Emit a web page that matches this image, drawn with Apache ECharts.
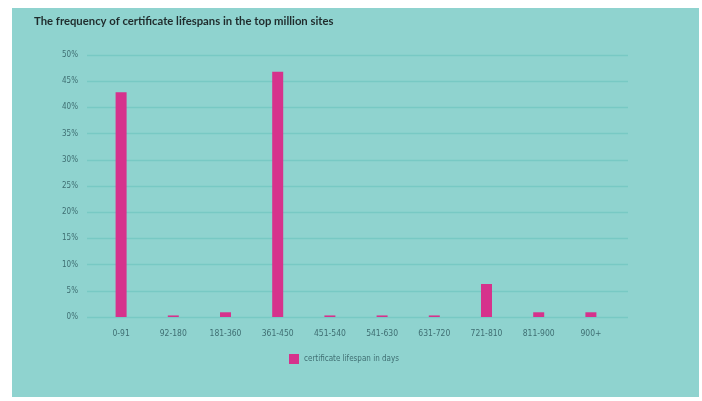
<!DOCTYPE html>
<html>
<head>
<meta charset="utf-8">
<script src="https://cdn.jsdelivr.net/npm/echarts@6/dist/echarts.min.js"></script>
<style>
  html, body { margin: 0; padding: 0; background: #ffffff; }
  #panel { position: absolute; left: 12px; top: 8px; width: 687px; height: 389px; background: #8fd3cf; }
  #chart { width: 100%; height: 100%; }
</style>
</head>
<body>
<div id="panel"><div id="chart"></div></div>
<script>
// Share of certificates by lifespan bucket (days)
const categories = ['0-91', '92-180', '181-360', '361-450', '451-540', '541-630', '631-720', '721-810', '811-900', '900+'];
const shares = [42.9, 0.3, 0.9, 46.8, 0.3, 0.3, 0.3, 6.3, 0.9, 0.9];
const yTicks = [0, 5, 10, 15, 20, 25, 30, 35, 40, 45, 50];

const labelFont = "'DejaVu Sans Condensed', 'Liberation Sans Narrow', 'Roboto', sans-serif";
const textColor = '#3f6e72';

const chart = echarts.init(document.getElementById('chart'), null, { renderer: 'canvas' });
chart.setOption({
  animation: false,
  title: {
    text: 'The frequency of certificate lifespans in the top million sites',
    left: 17, top: 3,
    textStyle: { fontFamily: "'Lato', 'Open Sans', sans-serif", fontSize: 11.3, fontWeight: 'bold', color: '#1f2b2c' }
  },
  legend: {
    data: ['certificate lifespan in days'],
    left: 272, top: 341,
    icon: 'rect', itemWidth: 10, itemHeight: 10, itemGap: 6,
    textStyle: { fontFamily: labelFont, fontSize: 8, color: textColor }
  },
  grid: [
    // bars
    { left: 83, right: 82, top: 47, bottom: 80 },
    // gridlines and percentage labels
    { left: 75, right: 71, top: 47, bottom: 80 }
  ],
  xAxis: [
    {
      type: 'category', gridIndex: 0, data: categories,
      axisLine: { show: false }, axisTick: { show: false },
      axisLabel: { fontFamily: labelFont, fontSize: 8.5, color: textColor, margin: 12 }
    },
    { type: 'category', gridIndex: 1, data: categories, show: false }
  ],
  yAxis: [
    { type: 'value', gridIndex: 0, min: 0, max: 50, interval: 5, show: false, splitLine: { show: false } },
    {
      type: 'value', gridIndex: 1, min: yTicks[0], max: yTicks[yTicks.length - 1], interval: 5,
      axisLine: { show: false }, axisTick: { show: false },
      axisLabel: { fontFamily: labelFont, fontSize: 8, color: textColor, margin: 9, formatter: v => v + '%' },
      splitLine: { lineStyle: { color: '#78c9c4', width: 1.3 } }
    }
  ],
  series: [
    {
      name: 'certificate lifespan in days',
      type: 'bar', xAxisIndex: 0, yAxisIndex: 0,
      data: shares, barWidth: 11,
      itemStyle: { color: '#d6328c' }
    }
  ]
});
</script>
</body>
</html>
